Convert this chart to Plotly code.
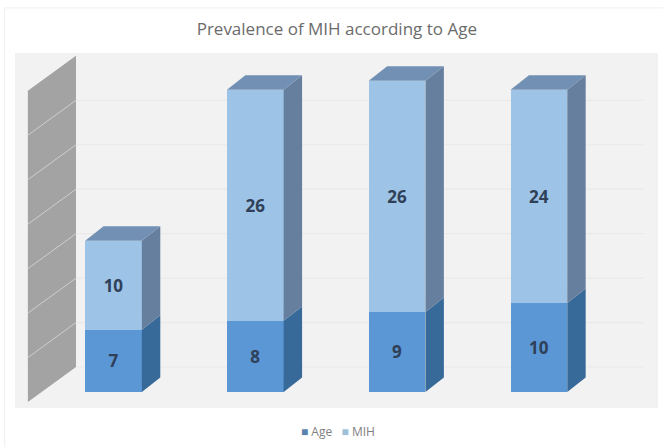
import plotly.graph_objects as go

# Chart values
groups = [0, 1, 2, 3]
age_values = [7, 8, 9, 10]
mih_values = [10, 26, 26, 24]
grid_values = [0, 5, 10, 15, 20, 25, 30]
wall_top = 35

# Oblique projection used for the extruded columns and the side wall
BAR_WIDTH = 0.40
DEPTH_X = 0.13
DEPTH_Y = 1.63
BACK_Y = 2.81
WALL_FRONT_X, WALL_BACK_X = -0.604, -0.2645
WALL_FRONT_Y = -1.125
GRID_END_X = 3.74

AGE_FRONT, AGE_SIDE = "#5b97d5", "#376a99"
MIH_FRONT, MIH_SIDE, MIH_TOP = "#9dc3e6", "#667f9f", "#7290b3"


def face(xs, ys, color):
    return go.Scatter(x=xs, y=ys, mode="lines", fill="toself", fillcolor=color,
                      line=dict(width=0, color=color), hoverinfo="skip", showlegend=False)


fig = go.Figure()

# Grey side wall with its gridlines
fig.add_trace(face(
    [WALL_FRONT_X, WALL_BACK_X, WALL_BACK_X, WALL_FRONT_X, WALL_FRONT_X],
    [WALL_FRONT_Y, BACK_Y, BACK_Y + wall_top, WALL_FRONT_Y + wall_top, WALL_FRONT_Y],
    "#a3a3a3"))
for v in grid_values[1:]:
    fig.add_trace(go.Scatter(x=[WALL_FRONT_X, WALL_BACK_X],
                             y=[WALL_FRONT_Y + v, BACK_Y + v], mode="lines",
                             line=dict(color="#cfcfcf", width=1),
                             hoverinfo="skip", showlegend=False))

# Column side and top faces
for g, a, m in zip(groups, age_values, mih_values):
    xr = g + BAR_WIDTH / 2
    xl = g - BAR_WIDTH / 2
    total = a + m
    fig.add_trace(face([xr, xr + DEPTH_X, xr + DEPTH_X, xr, xr],
                       [0, DEPTH_Y, a + DEPTH_Y, a, 0], AGE_SIDE))
    fig.add_trace(face([xr, xr + DEPTH_X, xr + DEPTH_X, xr, xr],
                       [a, a + DEPTH_Y, total + DEPTH_Y, total, a], MIH_SIDE))
    fig.add_trace(face([xl, xl + DEPTH_X, xr + DEPTH_X, xr, xl],
                       [total, total + DEPTH_Y, total + DEPTH_Y, total, total], MIH_TOP))

# Column front faces with their value labels
label_font = dict(family="'Open Sans', sans-serif", size=17, color="#2f4058")
for name, values, color in [("Age", age_values, AGE_FRONT), ("MIH", mih_values, MIH_FRONT)]:
    fig.add_trace(go.Bar(x=groups, y=values, name=name, width=BAR_WIDTH,
                         marker=dict(color=color, line=dict(width=0)),
                         text=[f"<b>{v}</b>" for v in values],
                         textposition="inside", insidetextanchor="middle",
                         textangle=0, constraintext="none", insidetextfont=label_font,
                         showlegend=False))

# Back-wall gridlines sit underneath every trace
shapes = [dict(type="line", layer="below", xref="x", yref="y",
               x0=WALL_BACK_X, x1=GRID_END_X, y0=BACK_Y + v, y1=BACK_Y + v,
               line=dict(color="#e9e9e9", width=1.2))
          for v in grid_values[1:] + [0]]

# Faint chart-area outline along the top and left edges
shapes.append(dict(type="line", layer="below", xref="paper", yref="paper",
                   x0=-0.016, x1=1.03, y0=1.127, y1=1.127,
                   line=dict(color="#efefef", width=1)))
shapes.append(dict(type="line", layer="below", xref="paper", yref="paper",
                   x0=-0.016, x1=-0.016, y0=-0.11, y1=1.127,
                   line=dict(color="#efefef", width=1)))

fig.update_layout(
    width=663, height=447, autosize=False,
    margin=dict(l=15, r=5, t=53, b=39),
    paper_bgcolor="#ffffff", plot_bgcolor="#f2f2f2",
    barmode="stack", showlegend=False, shapes=shapes,
    xaxis=dict(range=[-0.6946, 3.84], visible=False, fixedrange=True),
    yaxis=dict(range=[-1.8, 38.13], visible=False, fixedrange=True),
    font=dict(family="'Open Sans', sans-serif"),
    title=dict(text="Prevalence of MIH according to Age", x=0.508, xanchor="center",
               y=0.935, yanchor="middle",
               font=dict(family="'Open Sans', sans-serif", size=17, color="#6b6b6b")),
    annotations=[dict(
        xref="paper", yref="paper", x=0.503, y=-0.065, xanchor="center", yanchor="middle",
        showarrow=False, font=dict(size=12, color="#7f7f7f"),
        text='<span style="color:#5b82ad">■</span> Age   '
             '<span style="color:#a0bfd8">■</span> MIH',
    )],
)

fig.write_html("out.html")
